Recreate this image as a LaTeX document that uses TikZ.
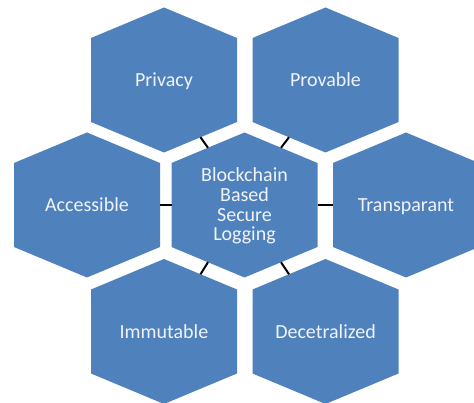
\documentclass[tikz,border=0pt]{standalone}
\usepackage{fontspec}
\setmainfont{Carlito}
\usetikzlibrary{calc,backgrounds}
\definecolor{hexblue}{RGB}{79,129,189}
\definecolor{hextext}{RGB}{240,244,250}
\begin{document}
\begin{tikzpicture}[x=1pt,y=-1pt,
  txtbase/.style={text=hextext, inner sep=0pt, font=\fontsize{20}{19.8}\selectfont},
  lbl/.style={txtbase, text height=13pt, text depth=0pt},
  hub/.style={txtbase, align=center},
  hexfill/.style={fill=hexblue},
  link/.style={draw=black, line width=2pt}]
  \useasboundingbox (0,0) rectangle (474,403);
  \clip (0,0) rectangle (474,403);

  % labels, one per hexagon
  \node[hub] (c)     at (244.5,206) {Blockchain\\Based\\Secure\\Logging};
  \node[lbl] (priv)  at (164,80)    {Privacy};
  \node[lbl] (prov)  at (325.5,80)  {Provable};
  \node[lbl] (acc)   at (87,205)    {Accessible};
  \node[lbl] (trans) at (406,205)   {Transparant};
  \node[lbl] (imm)   at (164,331.5) {Immutable};
  \node[lbl] (dec)   at (325.5,331.5) {Decetralized};

  % hexagons behind the labels
  \begin{scope}[on background layer]
    \foreach \n in {priv,prov,acc,trans,imm,dec}{
      \fill[hexfill] ($(\n)+(0,-72.5)$) -- ($(\n)+(73,-42)$) -- ($(\n)+(73,42)$)
        -- ($(\n)+(0,72.5)$) -- ($(\n)+(-73,42)$) -- ($(\n)+(-73,-42)$) -- cycle;
    }
    % the hub's label sits one unit below the hexagon's centre
    \fill[hexfill] ($(c)+(0,-73.5)$) -- ($(c)+(73,-43)$) -- ($(c)+(73,41)$)
      -- ($(c)+(0,71.5)$) -- ($(c)+(-73,41)$) -- ($(c)+(-73,-43)$) -- cycle;
  \end{scope}

  % short links from the hub to its neighbours
  \draw[link] ($(c)+(-36.5,-58.25)$) -- ($(priv)+(36.5,57.25)$);
  \draw[link] ($(c)+(36.5,-58.25)$)  -- ($(prov)+(-36.5,57.25)$);
  \draw[link] ($(c)+(-73,-1)$)       -- ($(acc)+(73,0)$);
  \draw[link] ($(c)+(73,-1)$)        -- ($(trans)+(-73,0)$);
  \draw[link] ($(c)+(-36.5,56.25)$)  -- ($(imm)+(36.5,-57.25)$);
  \draw[link] ($(c)+(36.5,56.25)$)   -- ($(dec)+(-36.5,-57.25)$);
\end{tikzpicture}
\end{document}
